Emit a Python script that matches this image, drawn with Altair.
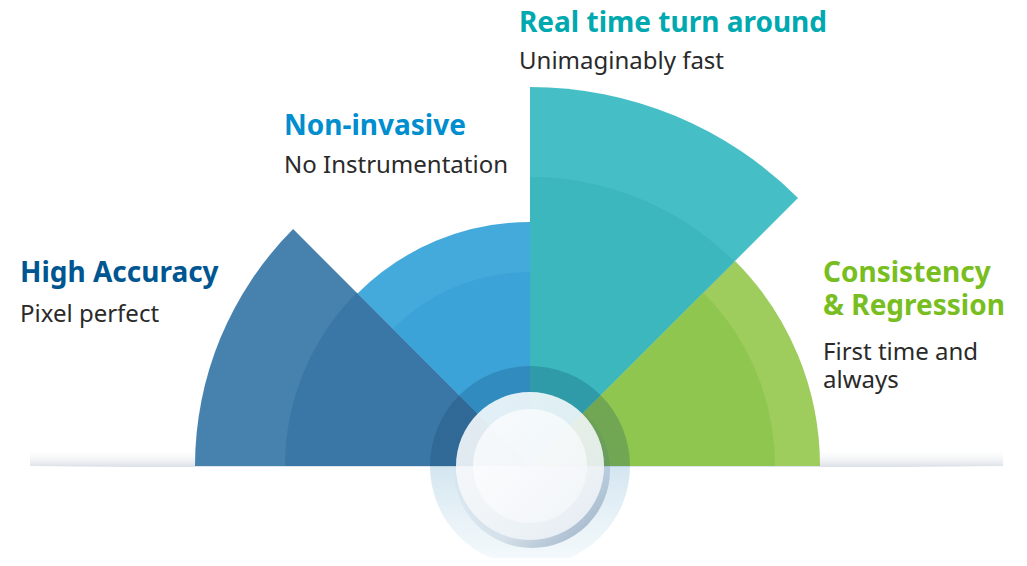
import math
import altair as alt
import pandas as pd

# ---- data ----
categories = ["High Accuracy", "Non-invasive", "Real time turn around", "Consistency & Regression"]
title_lines = [["High Accuracy"], ["Non-invasive"], ["Real time turn around"], ["Consistency", "& Regression"]]
subtitle_lines = [["Pixel perfect"], ["No Instrumentation"], ["Unimaginably fast"], ["First time and", "always"]]
outer_radius = [335, 244, 379, 290]
inner_radius = [245, 194, 289, 245]

# ---- styles ----
outer_colors = ["#4380ad", "#40a8da", "#41bec4", "#9ccc5a"]
inner_colors = ["#3b76a5", "#3ca3d8", "#3bb7bd", "#8ec650"]
title_colors = ["#005691", "#008ecf", "#00a8b0", "#78be20"]
FONT = "Noto Sans"
W, H = 1011, 550
CX, CY = 522, 458
label_x = [12, 276, 511, 815]
title_y = [274, 127, 24, 274]
sub_y = [314, 165, 61, 352]

df = pd.DataFrame({
    "category": categories,
    "order": list(range(len(categories))),
    "outer": outer_radius,
    "inner": inner_radius,
    "title": ["\n".join(t) for t in title_lines],
    "subtitle": ["\n".join(s) for s in subtitle_lines],
})
df["order_end"] = df["order"] + 1

theta_scale = alt.Scale(domain=[0, 4], range=[-math.pi / 2, math.pi / 2])
r_scale = alt.Scale(type="linear", domain=[0, 400], range=[0, 400], zero=True)
dummy = pd.DataFrame({"d": [0]})

# shadow gradient along the base line
shadow = alt.Chart(dummy).mark_rect(
    color=alt.Gradient(gradient="linear", x1=0, y1=0, x2=0, y2=1,
                       stops=[alt.GradientStop(offset=0, color="rgba(255,255,255,0)"),
                              alt.GradientStop(offset=1, color="rgba(200,209,219,0.6)")])
).encode(x=alt.value(22), x2=alt.value(995), y=alt.value(440), y2=alt.value(458))

base_line = alt.Chart(dummy).mark_rect(
    color=alt.Gradient(gradient="linear", x1=0, y1=0, x2=1, y2=0,
                       stops=[alt.GradientStop(offset=0, color="rgba(220,226,233,0)"),
                              alt.GradientStop(offset=0.1, color="#dde3ea"),
                              alt.GradientStop(offset=0.9, color="#dde3ea"),
                              alt.GradientStop(offset=1, color="rgba(220,226,233,0)")])
).encode(x=alt.value(22), x2=alt.value(995), y=alt.value(457.5), y2=alt.value(459))

outer = alt.Chart(df).mark_arc(opacity=0.98).encode(
    x=alt.value(CX), y=alt.value(CY),
    theta=alt.Theta("order:Q", scale=theta_scale),
    theta2=alt.Theta2("order_end:Q"),
    radius=alt.Radius("outer:Q", scale=r_scale),
    color=alt.Color("category:N", scale=alt.Scale(domain=categories, range=outer_colors), legend=None),
)

inner = alt.Chart(df).mark_arc(opacity=0.98).encode(
    x=alt.value(CX), y=alt.value(CY),
    theta=alt.Theta("order:Q", scale=theta_scale),
    theta2=alt.Theta2("order_end:Q"),
    radius=alt.Radius("inner:Q", scale=r_scale),
    fill=alt.Fill("category:N", scale=alt.Scale(domain=categories, range=inner_colors), legend=None),
)

ring = alt.Chart(dummy).mark_arc(
    fill=alt.Gradient(gradient="linear", x1=0, y1=0, x2=0, y2=1,
                      stops=[alt.GradientStop(offset=0, color="rgba(10,55,95,0.22)"),
                             alt.GradientStop(offset=0.5, color="rgba(10,55,95,0.22)"),
                             alt.GradientStop(offset=0.5, color="rgba(110,170,205,0.30)"),
                             alt.GradientStop(offset=1, color="rgba(170,210,230,0.12)")])
).encode(x=alt.value(CX), y=alt.value(CY), theta=alt.value(0), theta2=alt.value(2 * math.pi),
         radius=alt.value(100), radius2=alt.value(74))

disc_shadow = alt.Chart(dummy).mark_arc(
    fill=alt.Gradient(gradient="linear", x1=0.25, y1=0.25, x2=0.85, y2=1,
                      stops=[alt.GradientStop(offset=0, color="rgba(70,105,145,0)"),
                             alt.GradientStop(offset=0.6, color="rgba(70,105,145,0.15)"),
                             alt.GradientStop(offset=1, color="rgba(60,95,135,0.45)")])
).encode(x=alt.value(CX + 2), y=alt.value(CY + 4), theta=alt.value(0), theta2=alt.value(2 * math.pi),
         radius=alt.value(78))

disc = alt.Chart(dummy).mark_arc(
    opacity=0.9,
    fill=alt.Gradient(gradient="linear", x1=0, y1=0, x2=1, y2=1,
                      stops=[alt.GradientStop(offset=0, color="#f6f9fb"),
                             alt.GradientStop(offset=1, color="#eaf0f5")])
).encode(x=alt.value(CX), y=alt.value(CY), theta=alt.value(0), theta2=alt.value(2 * math.pi),
         radius=alt.value(74))

disc_inner = alt.Chart(dummy).mark_arc(
    opacity=0.75,
    fill=alt.Gradient(gradient="linear", x1=0, y1=0, x2=1, y2=1,
                      stops=[alt.GradientStop(offset=0, color="#ffffff"),
                             alt.GradientStop(offset=1, color="#f4f7fa")])
).encode(x=alt.value(CX), y=alt.value(CY), theta=alt.value(0), theta2=alt.value(2 * math.pi),
         radius=alt.value(57))

layers = [shadow, base_line, outer, inner, ring, disc_shadow, disc, disc_inner]

for i in range(len(categories)):
    t = alt.Chart(df).transform_filter(alt.datum.order == i).mark_text(
        align="left", baseline="alphabetic", font=FONT, fontSize=28, fontWeight="bold",
        color=title_colors[i], lineBreak="\n", lineHeight=33,
    ).encode(x=alt.value(label_x[i]), y=alt.value(title_y[i]), text="title:N")
    s = alt.Chart(df).transform_filter(alt.datum.order == i).mark_text(
        align="left", baseline="alphabetic", font=FONT, fontSize=24, fontWeight="normal",
        color="#2a2a2a", lineBreak="\n", lineHeight=28,
    ).encode(x=alt.value(label_x[i]), y=alt.value(sub_y[i]), text="subtitle:N")
    layers += [t, s]

chart = alt.layer(*layers).resolve_scale(color="independent", fill="independent").properties(
    width=W, height=H, padding=0, autosize=alt.AutoSizeParams(type="none"), background="white"
).configure_view(stroke=None)

chart.save("out.html", embed_options={"renderer": "svg", "actions": False})
